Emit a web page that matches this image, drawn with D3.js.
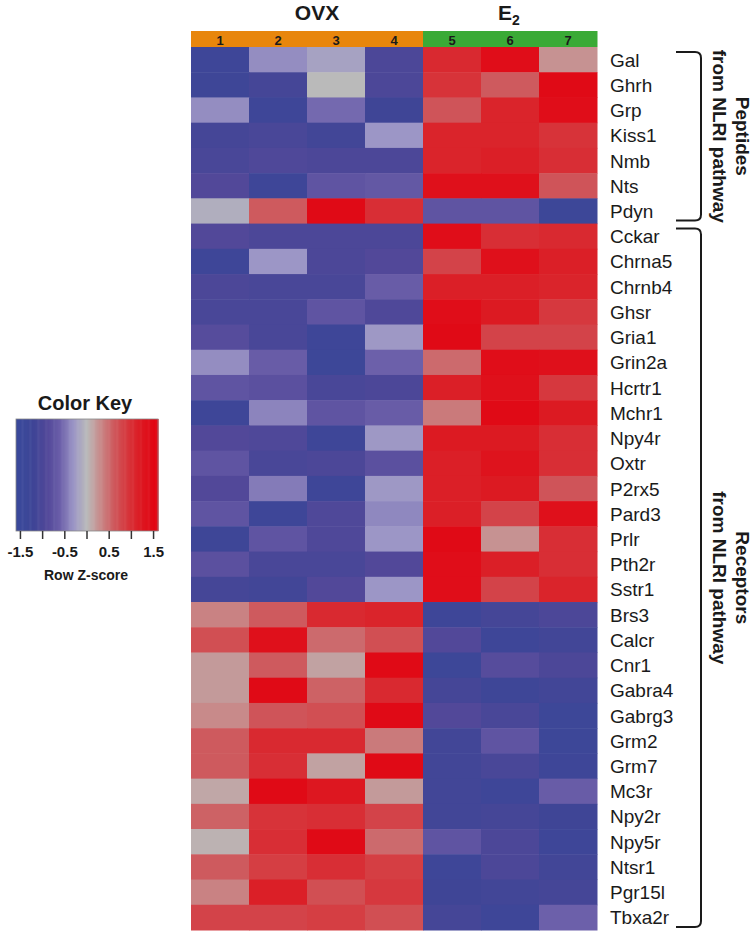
<!DOCTYPE html>
<html>
<head>
<meta charset="utf-8">
<script src="https://cdn.jsdelivr.net/npm/d3@7"></script>
<style>
  body { margin: 0; background: #fff; }
  text { font-family: Arial, "Liberation Sans", Helvetica, sans-serif; }
</style>
</head>
<body>
<div id="chart"></div>
<script>
// Data
const samples = ["1", "2", "3", "4", "5", "6", "7"];
const sampleGroup = ["OVX", "OVX", "OVX", "OVX", "E2", "E2", "E2"];
const peptideGenes = ["Gal", "Ghrh", "Grp", "Kiss1", "Nmb", "Nts", "Pdyn"];
const receptorGenes = ["Cckar", "Chrna5", "Chrnb4", "Ghsr", "Gria1", "Grin2a", "Hcrtr1", "Mchr1",
  "Npy4r", "Oxtr", "P2rx5", "Pard3", "Prlr", "Pth2r", "Sstr1", "Brs3", "Calcr", "Cnr1",
  "Gabra4", "Gabrg3", "Grm2", "Grm7", "Mc3r", "Npy2r", "Npy5r", "Ntsr1", "Pgr15l", "Tbxa2r"];
const genes = peptideGenes.concat(receptorGenes);

// row z-scores, columns 1..7
const zScores = [
  [-1.3, -0.35, -0.2, -1.0, 1.05, 1.4, 0.25],    // Gal
  [-1.25, -1.1, 0.0, -1.0, 0.95, 0.6, 1.45],     // Ghrh
  [-0.35, -1.3, -0.55, -1.2, 0.65, 1.1, 1.4],    // Grp
  [-1.1, -1.05, -1.15, -0.3, 1.1, 1.1, 0.95],    // Kiss1
  [-1.05, -0.95, -1.0, -1.0, 1.1, 1.15, 1.0],    // Nmb
  [-0.9, -1.3, -0.75, -0.7, 1.35, 1.35, 0.65],   // Nts
  [-0.1, 0.6, 1.45, 1.0, -0.75, -0.75, -1.35],   // Pdyn
  [-0.9, -1.0, -1.0, -1.0, 1.4, 1.0, 1.05],      // Cckar
  [-1.3, -0.3, -1.0, -0.9, 0.8, 1.35, 1.15],     // Chrna5
  [-1.0, -1.05, -1.05, -0.65, 1.15, 1.15, 1.1],  // Chrnb4
  [-1.05, -1.05, -0.75, -0.95, 1.4, 1.2, 0.9],   // Ghsr
  [-0.85, -1.05, -1.3, -0.28, 1.45, 0.8, 0.8],   // Gria1
  [-0.35, -0.65, -1.35, -0.6, 0.5, 1.4, 1.35],   // Grin2a
  [-0.75, -0.8, -1.05, -1.0, 1.15, 1.35, 0.9],   // Hcrtr1
  [-1.3, -0.4, -0.75, -0.65, 0.4, 1.45, 1.2],    // Mchr1
  [-0.9, -0.95, -1.3, -0.28, 1.2, 1.2, 1.0],     // Npy4r
  [-0.75, -1.05, -1.0, -0.8, 1.15, 1.3, 1.0],    // Oxtr
  [-0.9, -0.45, -1.3, -0.28, 1.15, 1.2, 0.65],   // P2rx5
  [-0.75, -1.3, -0.95, -0.38, 1.15, 0.8, 1.35],  // Pard3
  [-1.25, -0.75, -0.95, -0.3, 1.45, 0.25, 1.0],  // Prlr
  [-0.8, -1.05, -1.05, -0.9, 1.4, 1.15, 1.0],    // Pth2r
  [-1.1, -1.15, -0.9, -0.3, 1.4, 0.8, 1.1],      // Sstr1
  [0.35, 0.6, 1.05, 1.1, -1.3, -1.1, -1.0],      // Brs3
  [0.7, 1.35, 0.5, 0.7, -0.9, -1.3, -1.15],      // Calcr
  [0.2, 0.6, 0.15, 1.45, -1.35, -0.85, -1.0],    // Cnr1
  [0.2, 1.45, 0.55, 1.05, -1.1, -1.25, -1.15],   // Gabra4
  [0.3, 0.65, 0.7, 1.45, -0.9, -1.05, -1.35],    // Gabrg3
  [0.6, 1.05, 1.05, 0.4, -1.15, -0.75, -1.35],   // Grm2
  [0.6, 1.0, 0.15, 1.45, -1.15, -1.05, -1.3],    // Grm7
  [0.12, 1.45, 1.25, 0.2, -1.15, -1.3, -0.65],   // Mc3r
  [0.55, 0.95, 1.0, 0.8, -1.15, -1.1, -1.2],     // Npy2r
  [0.05, 1.0, 1.45, 0.5, -0.75, -1.0, -1.3],     // Npy5r
  [0.6, 0.85, 1.0, 0.85, -1.3, -1.0, -1.15],     // Ntsr1
  [0.35, 1.15, 0.7, 0.9, -1.2, -1.15, -1.1],     // Pgr15l
  [0.8, 0.8, 0.85, 0.7, -1.1, -1.3, -0.6]        // Tbxa2r
];
const keyTicks = [-1.5, -1, -0.5, 0, 0.5, 1, 1.5];
const keyTickLabels = ["-1.5", "-0.5", "0.5", "1.5"];

const W = 755, H = 936;
const svg = d3.select("#chart").append("svg")
  .attr("width", W)
  .attr("height", H);

const x = d3.scaleBand().domain(samples).range([191, 597]);
const y = d3.scaleBand().domain(genes).range([47, 930]);

const color = d3.scaleLinear()
  .domain([-1.6, -1.2, -0.9, -0.6, -0.3, 0, 0.3, 0.6, 0.9, 1.2, 1.6])
  .range(["#3a4a9c", "#3f4596", "#524899", "#6c60aa", "#9c96c6", "#bababa",
          "#c88a8a", "#ce5a5e", "#d6383e", "#dc1a22", "#e3000f"])
  .clamp(true);

const groupColor = { OVX: "#e8860c", E2: "#3aaa36" };

// heatmap cells
const cells = [];
zScores.forEach((row, i) => row.forEach((v, j) => cells.push({ gene: genes[i], sample: samples[j], v: v })));

svg.append("g").selectAll("rect")
  .data(cells)
  .enter()
  .append("rect")
  .attr("x", d => x(d.sample))
  .attr("y", d => y(d.gene))
  .attr("width", x.bandwidth() + 0.5)
  .attr("height", y.bandwidth() + 0.5)
  .attr("fill", d => color(d.v));

// column header bar
svg.append("g").selectAll("rect")
  .data(samples)
  .enter()
  .append("rect")
  .attr("x", d => x(d))
  .attr("y", 31)
  .attr("width", x.bandwidth() + 0.5)
  .attr("height", 16)
  .attr("fill", (d, i) => groupColor[sampleGroup[i]]);

svg.append("g").selectAll("text")
  .data(samples)
  .enter()
  .append("text")
  .attr("x", d => x(d) + x.bandwidth() / 2)
  .attr("y", 45)
  .attr("text-anchor", "middle")
  .attr("font-size", 13)
  .attr("font-weight", "bold")
  .attr("fill", "#1a1a1a")
  .text(d => d);

// group titles
svg.append("text")
  .attr("x", 317)
  .attr("y", 20)
  .attr("text-anchor", "middle")
  .attr("font-size", 21)
  .attr("font-weight", "bold")
  .attr("fill", "#1a1a1a")
  .text("OVX");

const e2 = svg.append("text")
  .attr("x", 509)
  .attr("y", 20)
  .attr("text-anchor", "middle")
  .attr("font-size", 21)
  .attr("font-weight", "bold")
  .attr("fill", "#1a1a1a");
e2.append("tspan").text("E");
e2.append("tspan").attr("font-size", 14).attr("dy", 5).text("2");

// gene labels
svg.append("g").selectAll("text")
  .data(genes)
  .enter()
  .append("text")
  .attr("x", 610)
  .attr("y", d => y(d) + y.bandwidth() / 2 + 7)
  .attr("font-size", 19)
  .attr("fill", "#1a1a1a")
  .text(d => d);

// brackets
function bracket(y0, y1) {
  const xa = 676, xb = 701, r = 6;
  return `M${xa},${y0} L${xb - r},${y0} Q${xb},${y0} ${xb},${y0 + r} L${xb},${y1 - r} Q${xb},${y1} ${xb - r},${y1} L${xa},${y1}`;
}
const groups = [
  { first: peptideGenes[0], last: peptideGenes[peptideGenes.length - 1], lines: ["Peptides", "from NLRI pathway"] },
  { first: receptorGenes[0], last: receptorGenes[receptorGenes.length - 1], lines: ["Receptors", "from NLRI pathway"] }
];
groups.forEach(g => {
  const y0 = y(g.first) + 5, y1 = y(g.last) + y.bandwidth() - 3;
  svg.append("path")
    .attr("d", bracket(y0, y1))
    .attr("fill", "none")
    .attr("stroke", "#1a1a1a")
    .attr("stroke-width", 2);
  const cy = (y0 + y1) / 2;
  svg.append("text")
    .attr("transform", `translate(736,${cy}) rotate(90)`)
    .attr("text-anchor", "middle")
    .attr("font-size", 19)
    .attr("font-weight", "bold")
    .attr("fill", "#1a1a1a")
    .text(g.lines[0]);
  svg.append("text")
    .attr("transform", `translate(713,${cy}) rotate(90)`)
    .attr("text-anchor", "middle")
    .attr("font-size", 19)
    .attr("font-weight", "bold")
    .attr("fill", "#1a1a1a")
    .text(g.lines[1]);
});

// color key
const kx = d3.scaleLinear().domain([-1.6, 1.6]).range([16, 158]);
const keyTop = 419, keyBottom = 531;

svg.append("text")
  .attr("x", 85)
  .attr("y", 410)
  .attr("text-anchor", "middle")
  .attr("font-size", 20)
  .attr("font-weight", "bold")
  .attr("fill", "#1a1a1a")
  .text("Color Key");

const steps = d3.range(-1.6, 1.6, 0.02);
svg.append("g").selectAll("rect")
  .data(steps)
  .enter()
  .append("rect")
  .attr("x", d => kx(d))
  .attr("y", keyTop)
  .attr("width", kx(0.02) - kx(0) + 0.6)
  .attr("height", keyBottom - keyTop)
  .attr("fill", d => color(d + 0.01));

svg.append("rect")
  .attr("x", kx(-1.6))
  .attr("y", keyTop)
  .attr("width", kx(1.6) - kx(-1.6))
  .attr("height", keyBottom - keyTop)
  .attr("fill", "none")
  .attr("stroke", "#888")
  .attr("stroke-width", 0.8);

svg.append("g").selectAll("line")
  .data(keyTicks)
  .enter()
  .append("line")
  .attr("x1", d => kx(d))
  .attr("x2", d => kx(d))
  .attr("y1", keyBottom)
  .attr("y2", keyBottom + 8)
  .attr("stroke", "#333")
  .attr("stroke-width", 1.5);

svg.append("g").selectAll("text")
  .data(keyTickLabels)
  .enter()
  .append("text")
  .attr("x", d => kx(+d))
  .attr("y", 557)
  .attr("text-anchor", "middle")
  .attr("font-size", 15)
  .attr("font-weight", "bold")
  .attr("fill", "#1a1a1a")
  .text(d => d);

svg.append("text")
  .attr("x", 86)
  .attr("y", 580)
  .attr("text-anchor", "middle")
  .attr("font-size", 14)
  .attr("font-weight", "bold")
  .attr("fill", "#1a1a1a")
  .text("Row Z-score");
</script>
</body>
</html>
